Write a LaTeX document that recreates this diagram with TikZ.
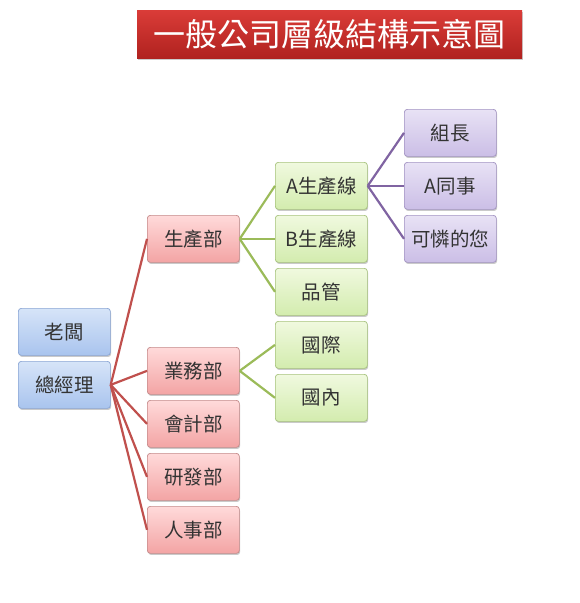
\documentclass[tikz,border=0pt]{standalone}
\usepackage{fontspec}
\setmainfont{Noto Sans CJK TC}
\usetikzlibrary{shadows}
\definecolor{redline}{HTML}{C0504D}
\definecolor{greenline}{HTML}{9BBB59}
\definecolor{purpleline}{HTML}{8064A2}
\definecolor{bTop}{HTML}{D6E4F8}\definecolor{bBot}{HTML}{A9C4EE}\definecolor{bDraw}{HTML}{8AA5D4}
\definecolor{rTop}{HTML}{FFDADA}\definecolor{rBot}{HTML}{F3A4A4}\definecolor{rDraw}{HTML}{C48A8A}
\definecolor{gTop}{HTML}{F0F9DF}\definecolor{gBot}{HTML}{D3ECAE}\definecolor{gDraw}{HTML}{A6C27C}
\definecolor{pTop}{HTML}{E8E2F5}\definecolor{pBot}{HTML}{CBBEE6}\definecolor{pDraw}{HTML}{A293C2}
\definecolor{tTop}{HTML}{DA3C38}\definecolor{tBot}{HTML}{B0221F}
\tikzset{
  box/.style={draw, line width=0.7pt, rounded corners=3pt, minimum width=92pt, minimum height=47pt, inner sep=0pt,
    font=\fontsize{19.5pt}{21pt}\selectfont, text=black!80, anchor=north west,
    drop shadow={shadow xshift=0.8pt, shadow yshift=-1.6pt, opacity=0.35, fill=black!60}},
  bluebox/.style={box, draw=bDraw, top color=bTop, bottom color=bBot},
  redbox/.style={box, draw=rDraw, top color=rTop, bottom color=rBot},
  greenbox/.style={box, draw=gDraw, top color=gTop, bottom color=gBot},
  purplebox/.style={box, draw=pDraw, top color=pTop, bottom color=pBot},
  rline/.style={draw=redline, line width=2.2pt},
  gline/.style={draw=greenline, line width=2.2pt},
  pline/.style={draw=purpleline, line width=2.2pt},
}
\begin{document}
\begin{tikzpicture}[x=1pt,y=-1pt]
\useasboundingbox (0,0) rectangle (580,603);
% title
\node[anchor=north west, minimum width=385pt, minimum height=48pt, inner sep=0pt,
  top color=tTop, bottom color=tBot, draw=none,
  drop shadow={shadow xshift=1pt, shadow yshift=-2pt, opacity=0.4},
  text=white, font=\fontsize{32pt}{36pt}\selectfont] (title) at (137,10) {一般公司層級結構示意圖};
% level 0
\node[bluebox] (boss) at (18,308) {老闆};
\node[bluebox] (gm) at (18,361) {總經理};
% level 1
\node[redbox] (prod) at (147,215) {生產部};
\node[redbox] (sales) at (147,347) {業務部};
\node[redbox] (acct) at (147,400) {會計部};
\node[redbox] (rd) at (147,453) {研發部};
\node[redbox] (hr) at (147,506) {人事部};
% level 2
\node[greenbox] (la) at (275,162) {A生產線};
\node[greenbox] (lb) at (275,215) {B生產線};
\node[greenbox] (qc) at (275,268) {品管};
\node[greenbox] (intl) at (275,321) {國際};
\node[greenbox] (dom) at (275,374) {國內};
% level 3
\node[purplebox] (lead) at (404,109) {組長};
\node[purplebox] (cow) at (404,162) {A同事};
\node[purplebox] (you) at (404,215) {可憐的您};
% connectors
\foreach \c in {prod,sales,acct,rd,hr} \draw[rline] (gm.east) -- (\c.west);
\foreach \c in {la,lb,qc} \draw[gline] (prod.east) -- (\c.west);
\foreach \c in {intl,dom} \draw[gline] (sales.east) -- (\c.west);
\foreach \c in {lead,cow,you} \draw[pline] (la.east) -- (\c.west);
\end{tikzpicture}
\end{document}
